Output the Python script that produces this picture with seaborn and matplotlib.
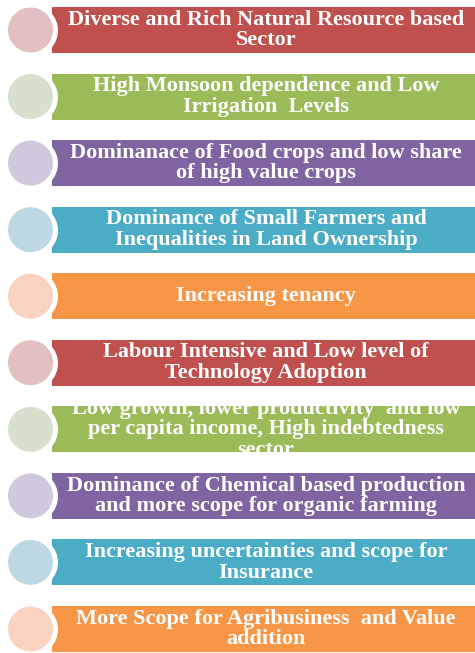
import matplotlib
matplotlib.use("Agg")
import matplotlib.pyplot as plt
import pandas as pd
import seaborn as sns

# Chart content
labels = [
    "Diverse and Rich Natural Resource based\nSector",
    "High Monsoon dependence and Low\nIrrigation  Levels",
    "Dominanace of Food crops and low share\nof high value crops",
    "Dominance of Small Farmers and\nInequalities in Land Ownership",
    "Increasing tenancy",
    "Labour Intensive and Low level of\nTechnology Adoption",
    "Low growth, lower productivity  and low\nper capita income, High indebtedness\nsector",
    "Dominance of Chemical based production\nand more scope for organic farming",
    "Increasing uncertainties and scope for\nInsurance",
    "More Scope for Agribusiness  and Value\naddition",
]
bar_colors = ["#C0504D", "#9BBB59", "#8064A2", "#4BACC6", "#F79646",
              "#C0504D", "#9BBB59", "#8064A2", "#4BACC6", "#F79646"]
circle_colors = ["#E2BFC0", "#D6E0CC", "#D0C8DC", "#BDD8E2", "#FAD3C0",
                 "#E2BFC0", "#D6E0CC", "#D0C8DC", "#BDD8E2", "#FAD3C0"]
rows = list(range(len(labels)))

# layout in pixels (axes data units on x)
W, H = 475, 653
bar_left, bar_right = 52, 478
circle_x = 30.5
px_per_row = 66.55

df = pd.DataFrame({"row": rows, "end": [bar_right] * len(rows)})

fig = plt.figure(figsize=(W / 100, H / 100), dpi=100)
ax = fig.add_axes([0, 0, 1, 1])
sns.barplot(data=df, x="end", y="row", hue="row", palette=bar_colors,
            orient="h", width=46 / px_per_row, legend=False, ax=ax,
            saturation=1, dodge=False, linewidth=0)

ax.set_xlim(0, W)
ax.set_ylim(9 + (H - 629) / px_per_row, -30 / px_per_row)
ax.axis("off")

# trim bars so they start right of the circles
bars = sorted(ax.patches, key=lambda p: p.get_y())
for p in bars:
    p.set_x(bar_left)
    p.set_width(bar_right - bar_left)
    p.set_zorder(1)

# white gap ring, then pale circles
pt = 72 / 100
sns.scatterplot(x=[circle_x] * len(rows), y=rows, s=(53 * pt) ** 2,
                color="white", linewidth=0, zorder=3, ax=ax, legend=False)
sns.scatterplot(x=[circle_x] * len(rows), y=rows, hue=rows,
                palette=circle_colors, s=(45 * pt) ** 2, linewidth=0,
                zorder=4, ax=ax, legend=False)

for p, lab in zip(bars, labels):
    t = ax.text((bar_left + bar_right) / 2 + 1, p.get_y() + p.get_height() / 2,
                lab, ha="center", va="center", color="white",
                fontsize=16, fontweight="bold", family="Liberation Serif",
                linespacing=1.05, zorder=5)
    t.set_clip_path(p)

fig.savefig("out.png", dpi=100)
